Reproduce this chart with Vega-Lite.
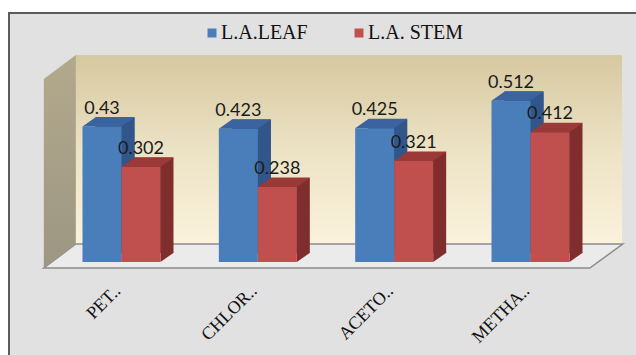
{
  "$schema": "https://vega.github.io/schema/vega-lite/v6.json",
  "width": 547,
  "height": 189,
  "autosize": {"type": "none"},
  "padding": {"left": 75, "top": 55, "right": 14, "bottom": 111},
  "background": "white",
  "config": {
    "view": {"stroke": null},
    "axisY": {"disable": true},
    "legend": {"padding": 0}
  },
  "data": {
    "values": [
      {"solvent": "PET..", "part": "L.A.LEAF", "value": 0.43},
      {"solvent": "PET..", "part": "L.A. STEM", "value": 0.302},
      {"solvent": "CHLOR..", "part": "L.A.LEAF", "value": 0.423},
      {"solvent": "CHLOR..", "part": "L.A. STEM", "value": 0.238},
      {"solvent": "ACETO..", "part": "L.A.LEAF", "value": 0.425},
      {"solvent": "ACETO..", "part": "L.A. STEM", "value": 0.321},
      {"solvent": "METHA..", "part": "L.A.LEAF", "value": 0.512},
      {"solvent": "METHA..", "part": "L.A. STEM", "value": 0.412}
    ]
  },
  "layer": [
    {
      "data": {"values": [{}]},
      "mark": {"type": "rect", "fill": "#e1e1e1", "stroke": "#5c5c5c", "strokeWidth": 2},
      "encoding": {
        "x": {"value": -66},
        "x2": {"value": 600},
        "y": {"value": -42},
        "y2": {"value": 330}
      }
    },
    {
      "data": {"values": [{}]},
      "mark": {
        "type": "rect",
        "color": {
          "gradient": "linear", "x1": 0, "y1": 0, "x2": 0, "y2": 1,
          "stops": [
            {"offset": 0, "color": "#d6c8a0"},
            {"offset": 0.5, "color": "#ece2c4"},
            {"offset": 1, "color": "#fbf2dd"}
          ]
        }
      },
      "encoding": {
        "x": {"value": 0},
        "x2": {"value": "width"},
        "y": {"value": 0},
        "y2": {"value": "height"}
      }
    },
    {
      "transform": [{"filter": "datum.part === 'L.A.LEAF'"}],
      "mark": {"type": "bar", "width": 39, "xOffset": -29, "yOffset": 9, "y2Offset": 9, "fill": "#30568a"},
      "encoding": {
        "x": {
          "field": "solvent", "type": "nominal", "sort": null,
          "scale": {"paddingInner": 0, "paddingOuter": 0.006},
          "axis": {
            "title": null, "grid": false, "domain": false, "ticks": false, "labelAngle": -45,
            "labelAlign": "right", "labelBaseline": "middle", "zindex": 2,
            "labelFont": "Liberation Serif", "labelFontSize": 18, "labelColor": "#111111",
            "labelOffset": -26, "labelPadding": 44
          }
        },
        "y": {"field": "value", "type": "quantitative", "scale": {"domain": [0, 0.6], "nice": false, "zero": true}}
      }
    },
    {
      "data": {"values": [{}]},
      "mark": {
        "type": "point", "filled": true, "opacity": 1, "size": 4,
        "shape": "M0,0 L547,0 L514,24 L-32,24 Z",
        "fill": "#ebebeb", "stroke": "#8c8c8c", "strokeWidth": 1.5
      },
      "encoding": {
        "x": {"datum": "PET..", "bandPosition": 0},
        "y": {"datum": 0}
      }
    },
    {
      "data": {"values": [{}]},
      "mark": {
        "type": "point", "filled": true, "opacity": 1, "size": 4,
        "shape": "M0,0 L-32,24 L-32,-165 L0,-189 Z",
        "strokeWidth": 0,
        "color": {
          "gradient": "linear", "x1": 0, "y1": 0, "x2": 0, "y2": 1,
          "stops": [
            {"offset": 0, "color": "#b3a98c"},
            {"offset": 1, "color": "#9c9683"}
          ]
        }
      },
      "encoding": {
        "x": {"datum": "PET..", "bandPosition": 0},
        "y": {"datum": 0}
      }
    },
    {
      "transform": [{"filter": "datum.part === 'L.A.LEAF'"}],
      "mark": {"type": "bar", "width": 39, "xOffset": -29, "yOffset": 9, "y2Offset": 9, "fill": "#30568a"},
      "encoding": {
        "x": {"field": "solvent", "type": "nominal", "sort": null},
        "y": {"field": "value", "type": "quantitative"}
      }
    },
    {
      "transform": [{"filter": "datum.part === 'L.A. STEM'"}],
      "mark": {"type": "bar", "width": 39, "xOffset": 10, "yOffset": 9, "y2Offset": 9, "fill": "#7f2e2d"},
      "encoding": {
        "x": {"field": "solvent", "type": "nominal", "sort": null},
        "y": {"field": "value", "type": "quantitative"}
      }
    },
    {
      "transform": [{"filter": "datum.part === 'L.A.LEAF'"}],
      "mark": {
        "type": "point", "filled": true, "opacity": 1, "size": 4, "strokeWidth": 0,
        "shape": "M19.5,-9.5 L19.5,0 L33,-9.5 Z", "fill": "#30568a",
        "xOffset": -42, "yOffset": 18
      },
      "encoding": {
        "x": {"field": "solvent", "type": "nominal", "sort": null},
        "y": {"datum": 0}
      }
    },
    {
      "transform": [{"filter": "datum.part === 'L.A. STEM'"}],
      "mark": {
        "type": "point", "filled": true, "opacity": 1, "size": 4, "strokeWidth": 0,
        "shape": "M19.5,-9.5 L19.5,0 L33,-9.5 Z", "fill": "#7f2e2d",
        "xOffset": -3, "yOffset": 18
      },
      "encoding": {
        "x": {"field": "solvent", "type": "nominal", "sort": null},
        "y": {"datum": 0}
      }
    },
    {
      "transform": [{"filter": "datum.part === 'L.A.LEAF'"}],
      "mark": {"type": "bar", "width": 39, "xOffset": -42, "yOffset": 18, "y2Offset": 18},
      "encoding": {
        "x": {"field": "solvent", "type": "nominal", "sort": null},
        "y": {"field": "value", "type": "quantitative"},
        "color": {
          "field": "part", "type": "nominal",
          "scale": {"domain": ["L.A.LEAF", "L.A. STEM"], "range": ["#4a7ebb", "#c0504d"]},
          "legend": {
            "title": null, "orient": "none", "legendX": 127, "legendY": -32,
            "direction": "horizontal", "symbolType": "square", "symbolSize": 81,
            "symbolStrokeWidth": 0, "labelFont": "Liberation Serif", "labelFontSize": 20,
            "labelColor": "#111111", "labelOffset": -1, "columnPadding": 41
          }
        }
      }
    },
    {
      "transform": [{"filter": "datum.part === 'L.A. STEM'"}],
      "mark": {"type": "bar", "width": 39, "xOffset": -3, "yOffset": 18, "y2Offset": 18},
      "encoding": {
        "x": {"field": "solvent", "type": "nominal", "sort": null},
        "y": {"field": "value", "type": "quantitative"},
        "color": {"field": "part", "type": "nominal"}
      }
    },
    {
      "transform": [{"filter": "datum.part === 'L.A.LEAF'"}],
      "mark": {
        "type": "point", "filled": true, "opacity": 1, "size": 4, "strokeWidth": 0,
        "shape": "M-19.5,0 L19.5,0 L33,-9.5 L-6,-9.5 Z", "fill": "#3a63a0",
        "xOffset": -42, "yOffset": 18
      },
      "encoding": {
        "x": {"field": "solvent", "type": "nominal", "sort": null},
        "y": {"field": "value", "type": "quantitative"}
      }
    },
    {
      "transform": [{"filter": "datum.part === 'L.A. STEM'"}],
      "mark": {
        "type": "point", "filled": true, "opacity": 1, "size": 4, "strokeWidth": 0,
        "shape": "M-19.5,0 L19.5,0 L33,-9.5 L-6,-9.5 Z", "fill": "#9a3937",
        "xOffset": -3, "yOffset": 18
      },
      "encoding": {
        "x": {"field": "solvent", "type": "nominal", "sort": null},
        "y": {"field": "value", "type": "quantitative"}
      }
    },
    {
      "transform": [{"filter": "datum.part === 'L.A.LEAF'"}],
      "mark": {
        "type": "text", "align": "center", "baseline": "alphabetic",
        "font": "Lato", "fontSize": 18, "color": "#1a1a1a",
        "xOffset": -42, "yOffset": 5
      },
      "encoding": {
        "x": {"field": "solvent", "type": "nominal", "sort": null},
        "y": {"field": "value", "type": "quantitative"},
        "text": {"field": "value", "type": "nominal"}
      }
    },
    {
      "transform": [{"filter": "datum.part === 'L.A. STEM'"}],
      "mark": {
        "type": "text", "align": "center", "baseline": "alphabetic",
        "font": "Lato", "fontSize": 18, "color": "#1a1a1a",
        "xOffset": -3, "yOffset": 5
      },
      "encoding": {
        "x": {"field": "solvent", "type": "nominal", "sort": null},
        "y": {"field": "value", "type": "quantitative"},
        "text": {"field": "value", "type": "nominal"}
      }
    }
  ]
}
